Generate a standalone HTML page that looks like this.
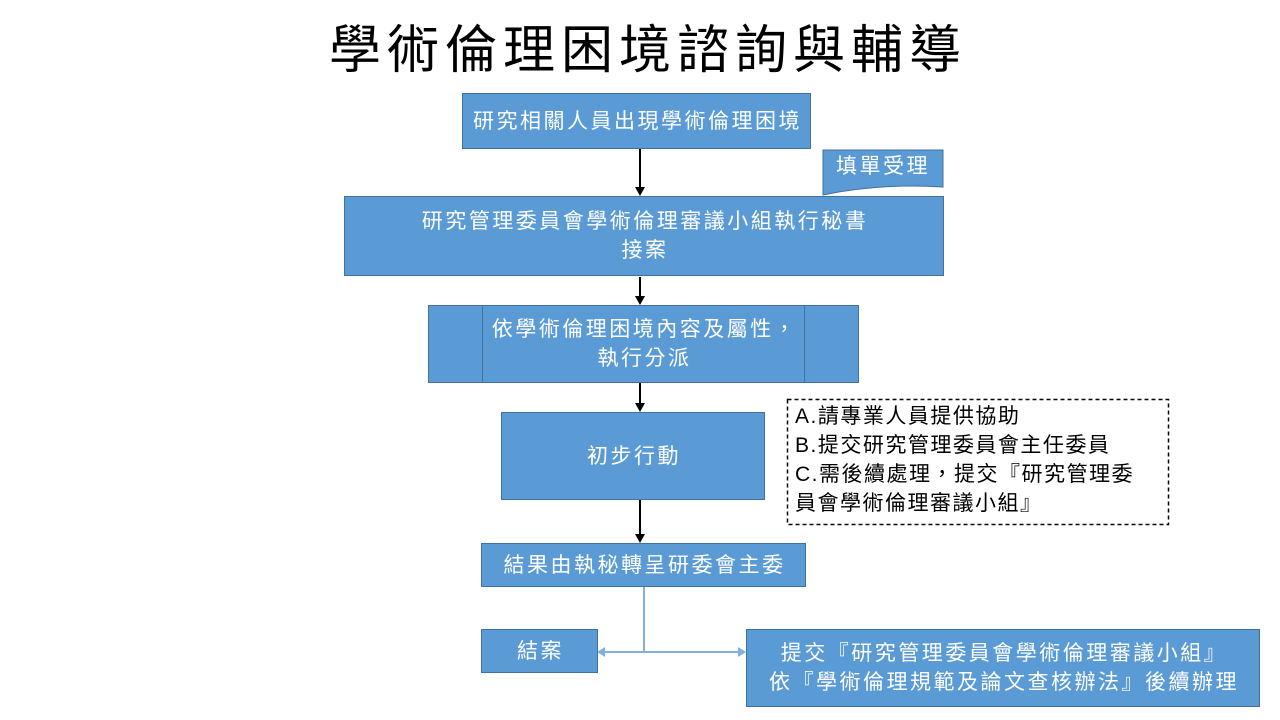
<!DOCTYPE html>
<html><head><meta charset="utf-8"><style>
body{margin:0;width:1280px;height:720px;background:#fff;position:relative;overflow:hidden;font-family:"Liberation Sans","Noto Sans CJK TC",sans-serif;}
.b{position:absolute;background:#5b9bd5;border:1px solid #41719c;color:#fff;box-sizing:border-box;display:flex;align-items:center;justify-content:center;text-align:center;font-size:21px;line-height:29px;letter-spacing:2.5px;padding-left:2px;}
.t{position:absolute;left:0;width:1280px;top:16px;text-align:center;font-size:52px;line-height:70px;color:#000;letter-spacing:6px;padding-left:16px;box-sizing:border-box;}
</style></head><body>
<div class="t">學術倫理困境諮詢與輔導</div>
<div class="b" style="left:462px;top:93px;width:349px;height:56px;">研究相關人員出現學術倫理困境</div>
<svg style="position:absolute;left:0;top:0" width="1280" height="720">
<path d="M823 150 H943 V187 Q880 183 823 195 Z" fill="#5b9bd5" stroke="#41719c"/>
<g stroke="#000" stroke-width="2" fill="#000">
<line x1="640" y1="149" x2="640" y2="188"/><polygon points="635,187 645,187 640,196" stroke="none"/>
<line x1="640" y1="277" x2="640" y2="297"/><polygon points="635,296 645,296 640,305" stroke="none"/>
<line x1="640" y1="383" x2="640" y2="404"/><polygon points="635,403 645,403 640,412" stroke="none"/>
<line x1="640" y1="500" x2="640" y2="535"/><polygon points="635,534 645,534 640,543" stroke="none"/>
</g>
<g stroke="#7fb0e0" stroke-width="2" fill="#7fb0e0">
<line x1="644" y1="587" x2="644" y2="652"/>
<line x1="600" y1="652" x2="740" y2="652"/>
<polygon points="597,652 605,647 605,657" stroke="none"/>
<polygon points="746,652 738,647 738,657" stroke="none"/>
</g>
<rect x="787.5" y="399.5" width="381" height="125" fill="none" stroke="#000" stroke-width="1.5" stroke-dasharray="4,3"/>
</svg>
<div style="position:absolute;left:823px;top:152px;width:120px;text-align:center;color:#fff;font-size:21px;line-height:29px;letter-spacing:2.5px;">填單受理</div>
<div class="b" style="left:344px;top:196px;width:600px;height:80px;">研究管理委員會學術倫理審議小組執行秘書<br>接案</div>
<div class="b" style="left:428px;top:305px;width:431px;height:78px;">依學術倫理困境內容及屬性，<br>執行分派</div>
<div style="position:absolute;left:482px;top:305px;width:1px;height:78px;background:#41719c"></div>
<div style="position:absolute;left:804px;top:305px;width:1px;height:78px;background:#41719c"></div>
<div class="b" style="left:501px;top:412px;width:264px;height:88px;">初步行動</div>
<div style="position:absolute;left:795px;top:402px;width:380px;font-size:21px;line-height:29px;color:#000;letter-spacing:1.5px;white-space:nowrap;">A.請專業人員提供協助<br>B.提交研究管理委員會主任委員<br>C.需後續處理，提交『研究管理委<br>員會學術倫理審議小組』</div>
<div class="b" style="left:481px;top:543px;width:325px;height:44px;">結果由執秘轉呈研委會主委</div>
<div class="b" style="left:481px;top:629px;width:117px;height:44px;">結案</div>
<div class="b" style="left:746px;top:629px;width:514px;height:78px;">提交『研究管理委員會學術倫理審議小組』<br>依『學術倫理規範及論文查核辦法』後續辦理</div>
</body></html>
